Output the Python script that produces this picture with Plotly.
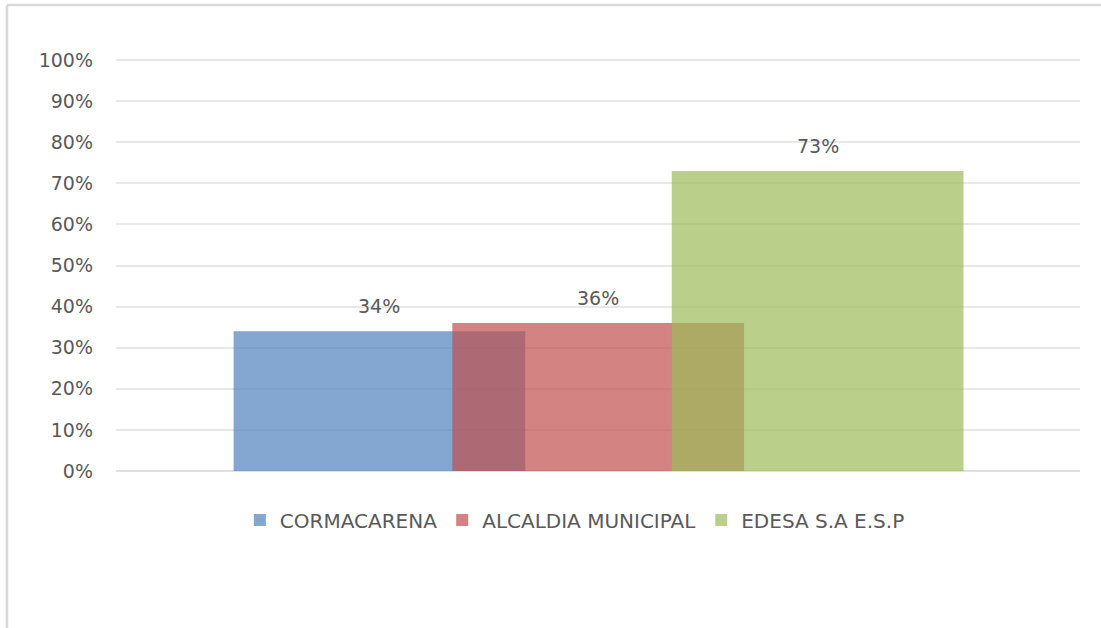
import plotly.graph_objects as go

# ---- data ----
series_names = ["CORMACARENA", "ALCALDIA MUNICIPAL", "EDESA S.A E.S.P"]
series_values = [0.34, 0.36, 0.73]
series_labels = ["34%", "36%", "73%"]
series_colors = ["rgba(79,129,189,0.70)", "rgba(192,80,77,0.70)", "rgba(155,187,89,0.70)"]
y_tickvals = [0, 0.1, 0.2, 0.3, 0.4, 0.5, 0.6, 0.7, 0.8, 0.9, 1.0]

# ---- layout styling (bar placement in axis units, Excel-like overlap) ----
bar_width = 0.3026
bar_offsets = [-0.378, -0.1511, 0.0765]

FONT = "DejaVu Sans"
TXT = "#595959"
BORDER = dict(color="#D9D9D9", width=2.5)

fig = go.Figure()
for name, val, col, off in zip(series_names, series_values, series_colors, bar_offsets):
    fig.add_trace(go.Bar(
        x=[0], y=[val], name=name,
        width=bar_width, offset=off,
        marker=dict(color=col, line=dict(width=0)),
        hoverinfo="name+y",
    ))

annotations = []
for val, lab, off in zip(series_values, series_labels, bar_offsets):
    annotations.append(dict(
        x=off + bar_width / 2, y=val, xref="x", yref="y",
        text=lab, showarrow=False, yanchor="middle", yshift=25,
        font=dict(family=FONT, size=19, color=TXT),
    ))

shapes = [
    # top border of the chart frame
    dict(type="line", xref="paper", yref="paper",
         xsizemode="pixel", ysizemode="pixel", xanchor=0, yanchor=1,
         x0=-109, x1=1000, y0=54, y1=54, line=BORDER, layer="above"),
    # left border of the chart frame
    dict(type="line", xref="paper", yref="paper",
         xsizemode="pixel", ysizemode="pixel", xanchor=0, yanchor=1,
         x0=-109, x1=-109, y0=54, y1=-700, line=BORDER, layer="above"),
]

fig.update_layout(
    width=1101, height=628,
    paper_bgcolor="white", plot_bgcolor="white",
    margin=dict(l=116, r=21, t=59, b=157),
    barmode="overlay",
    showlegend=True,
    legend=dict(
        orientation="h", x=0.476, xanchor="center", y=-0.119, yanchor="middle",
        font=dict(family=FONT, size=20, color=TXT),
        bgcolor="rgba(0,0,0,0)", itemwidth=30,
    ),
    xaxis=dict(
        type="linear", range=[-0.5, 0.5], showticklabels=False,
        showgrid=False, zeroline=False, showline=False, ticks="",
    ),
    yaxis=dict(
        range=[0, 1.0025], tickvals=y_tickvals, tickformat=".0%",
        showgrid=True, gridcolor="#E8E8E8", gridwidth=1.5,
        zeroline=True, zerolinecolor="#E0E0E0", zerolinewidth=1.5,
        showline=False, ticks="", ticklabelstandoff=22,
        tickfont=dict(family=FONT, size=19, color=TXT),
    ),
    annotations=annotations,
    shapes=shapes,
)

fig.write_html(
    "out.html", config={"displayModeBar": False},
    post_script="document.body.style.margin='0';document.body.style.overflow='hidden';"
                "document.documentElement.style.overflow='hidden';",
)
